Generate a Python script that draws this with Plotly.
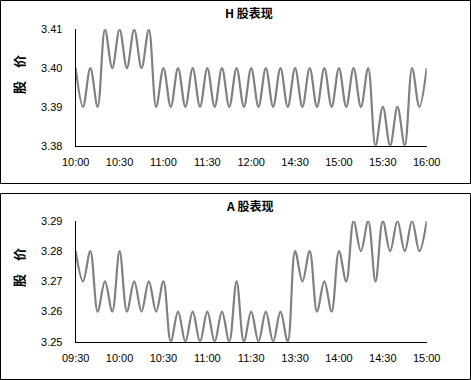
import plotly.graph_objects as go

W, H = 471, 380

h_labels = ["10:00", "10:30", "11:00", "11:30", "12:00", "14:30", "15:00", "15:30", "16:00"]
a_labels = ["09:30", "10:00", "10:30", "11:00", "11:30", "13:30", "14:00", "14:30", "15:00"]

h_values = [3.40, 3.39, 3.40, 3.39, 3.41, 3.40, 3.41, 3.40, 3.41, 3.40, 3.41,
            3.39, 3.40, 3.39, 3.40, 3.39, 3.40, 3.39, 3.40, 3.39, 3.40,
            3.39, 3.40, 3.39, 3.40, 3.39, 3.40, 3.39, 3.40, 3.39, 3.40,
            3.39, 3.40, 3.39, 3.40, 3.39, 3.40, 3.39, 3.40, 3.39, 3.40,
            3.38, 3.39, 3.38, 3.39, 3.38, 3.40, 3.39, 3.40]

a_values = [3.28, 3.27, 3.28, 3.26, 3.27, 3.26, 3.28, 3.26, 3.27, 3.26, 3.27,
            3.26, 3.27, 3.25, 3.26, 3.25, 3.26, 3.25, 3.26, 3.25, 3.26,
            3.25, 3.27, 3.25, 3.26, 3.25, 3.26, 3.25, 3.26, 3.25, 3.28,
            3.27, 3.28, 3.26, 3.27, 3.26, 3.28, 3.27, 3.29, 3.28, 3.29,
            3.27, 3.29, 3.28, 3.29, 3.28, 3.29, 3.28, 3.29]

def px(x):
    return x / W

def py(y):
    return 1 - y / H

n = len(h_values) - 1
step = n // (len(h_labels) - 1)
tickvals = list(range(0, n + 1, step))

fig = go.Figure()
line = dict(color="#808080", width=2.2, shape="spline", smoothing=1)
fig.add_trace(go.Scatter(x=list(range(len(h_values))), y=h_values, mode="lines",
                         line=line, xaxis="x", yaxis="y", hoverinfo="skip"))
fig.add_trace(go.Scatter(x=list(range(len(a_values))), y=a_values, mode="lines",
                         line=line, xaxis="x2", yaxis="y2", hoverinfo="skip"))

tickfont = dict(family="Liberation Sans, Arial, sans-serif", size=11, color="black")
xcommon = dict(range=[0, n], showgrid=False, zeroline=False, showline=True,
               linecolor="black", linewidth=1, ticks="", tickmode="array",
               tickvals=tickvals, tickfont=tickfont, fixedrange=True, automargin=False,
               ticklabelstandoff=6)
ycommon = dict(showgrid=False, zeroline=False, showline=True, linecolor="black",
               linewidth=1, ticks="", dtick=0.01, tickformat=".2f",
               tickfont=tickfont, fixedrange=True, automargin=False,
               ticklabelstandoff=10)

xd = [px(75.7), px(426.7)]
fig.update_layout(
    width=W, height=H, autosize=False,
    margin=dict(l=0, r=0, t=0, b=0, pad=0, autoexpand=False),
    paper_bgcolor="white", plot_bgcolor="white", showlegend=False,
    xaxis=dict(domain=xd, anchor="y", ticktext=h_labels, **xcommon),
    yaxis=dict(domain=[py(145.7), py(29.3)], anchor="x", range=[3.38, 3.41], **ycommon),
    xaxis2=dict(domain=xd, anchor="y2", ticktext=a_labels, **xcommon),
    yaxis2=dict(domain=[py(341.7), py(221)], anchor="x2", range=[3.25, 3.29], **ycommon),
)

# panel borders
for (y0, y1) in [(0.5, 183.5), (193.5, 379.5)]:
    fig.add_shape(type="rect", xref="paper", yref="paper",
                  x0=px(0.5), x1=px(470.5), y0=py(y1), y1=py(y0),
                  line=dict(color="black", width=1), fillcolor="rgba(0,0,0,0)")

cjk = "Noto Sans CJK SC, sans-serif"
titles = [("H 股表现", 12.5), ("A 股表现", 205)]
for text, yc in titles:
    fig.add_annotation(text="<b>" + text + "</b>", xref="paper", yref="paper",
                       x=px(249), y=py(yc), showarrow=False,
                       font=dict(family=cjk, size=12, color="black"),
                       xanchor="center", yanchor="middle")

for yc in [75, 268]:
    fig.add_annotation(text="<b>股\u2003价</b>", xref="paper", yref="paper",
                       x=px(18), y=py(yc), showarrow=False, textangle=-90,
                       font=dict(family=cjk, size=13, color="black"),
                       xanchor="center", yanchor="middle")

fig.write_html("out.html", config={"responsive": False})
